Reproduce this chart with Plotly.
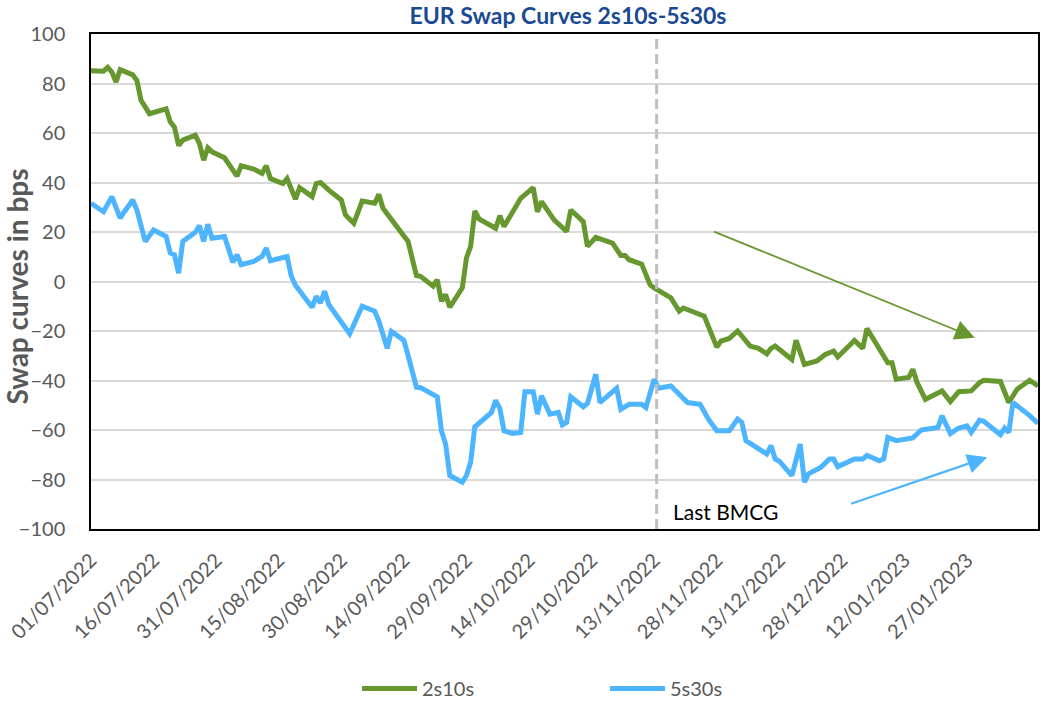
import plotly.graph_objects as go

# ---------------- data ----------------
green_dates = [
    "2022-07-01", "2022-07-04", "2022-07-05", "2022-07-06", "2022-07-07", "2022-07-08",
    "2022-07-11", "2022-07-12", "2022-07-13", "2022-07-15", "2022-07-19", "2022-07-20",
    "2022-07-21", "2022-07-22", "2022-07-23", "2022-07-26", "2022-07-27", "2022-07-28",
    "2022-07-29", "2022-07-30", "2022-08-02", "2022-08-03", "2022-08-05", "2022-08-06",
    "2022-08-09", "2022-08-11", "2022-08-12", "2022-08-13", "2022-08-16", "2022-08-17",
    "2022-08-19", "2022-08-20", "2022-08-23", "2022-08-24", "2022-08-25", "2022-08-27",
    "2022-08-30", "2022-08-31", "2022-09-02", "2022-09-04", "2022-09-07", "2022-09-08",
    "2022-09-09", "2022-09-14", "2022-09-15", "2022-09-17", "2022-09-18", "2022-09-21",
    "2022-09-22", "2022-09-23", "2022-09-24", "2022-09-25", "2022-09-28", "2022-09-29",
    "2022-09-30", "2022-10-01", "2022-10-02", "2022-10-06", "2022-10-07", "2022-10-08",
    "2022-10-12", "2022-10-15", "2022-10-16", "2022-10-17", "2022-10-20", "2022-10-23",
    "2022-10-24", "2022-10-27", "2022-10-28", "2022-10-30", "2022-11-03", "2022-11-05",
    "2022-11-06", "2022-11-07", "2022-11-10", "2022-11-12", "2022-11-13", "2022-11-17",
    "2022-11-19", "2022-11-20", "2022-11-25", "2022-11-28", "2022-11-29", "2022-12-01",
    "2022-12-03", "2022-12-06", "2022-12-08", "2022-12-10", "2022-12-11", "2022-12-12",
    "2022-12-16", "2022-12-17", "2022-12-19", "2022-12-22", "2022-12-24", "2022-12-26",
    "2022-12-27", "2022-12-31", "2023-01-02", "2023-01-03", "2023-01-06", "2023-01-08",
    "2023-01-09", "2023-01-10", "2023-01-13", "2023-01-14", "2023-01-15", "2023-01-17",
    "2023-01-21", "2023-01-23", "2023-01-25", "2023-01-28", "2023-01-30", "2023-01-31",
    "2023-02-04", "2023-02-06", "2023-02-08", "2023-02-11", "2023-02-13",
]
green_2s10s = [
    85.2, 85.0, 86.5, 84.6, 80.6, 85.6,
    83.5, 81.2, 73.2, 67.8, 69.8, 64.5,
    62.4, 55.0, 57.1, 59.1, 55.7, 49.0,
    54.0, 52.4, 50.0, 47.7, 42.6, 46.8,
    45.4, 43.7, 46.8, 41.6, 39.6, 41.6,
    33.3, 37.9, 34.3, 39.6, 40.0, 36.9,
    32.9, 26.9, 23.5, 32.5, 31.6, 35.2,
    29.6, 18.4, 16.2, 2.4, 2.1, -1.9,
    0.7, -8.0, -5.3, -10.4, -2.6, 9.5,
    14.2, 28.5, 25.3, 21.5, 26.6, 22.2,
    33.6, 37.9, 28.2, 32.3, 24.9, 20.2,
    28.9, 24.2, 14.2, 17.8, 15.5, 10.5,
    10.5, 8.8, 7.0, -1.3, -2.6, -6.6,
    -12.0, -10.7, -14.0, -26.5, -24.1, -23.0,
    -20.0, -26.1, -27.0, -29.2, -27.0, -26.1,
    -31.5, -23.8, -33.5, -32.1, -29.5, -28.1,
    -30.5, -23.8, -27.0, -19.0, -26.8, -32.8,
    -32.8, -39.5, -38.8, -35.5, -40.8, -47.6,
    -44.2, -48.5, -44.5, -44.2, -40.8, -39.9,
    -40.4, -48.9, -43.5, -39.9, -42.2,
]

blue_dates = [
    "2022-07-01", "2022-07-04", "2022-07-06", "2022-07-08", "2022-07-09", "2022-07-11",
    "2022-07-12", "2022-07-14", "2022-07-16", "2022-07-19", "2022-07-20", "2022-07-21",
    "2022-07-22", "2022-07-23", "2022-07-26", "2022-07-27", "2022-07-28", "2022-07-29",
    "2022-07-30", "2022-08-02", "2022-08-04", "2022-08-05", "2022-08-06", "2022-08-09",
    "2022-08-11", "2022-08-12", "2022-08-13", "2022-08-17", "2022-08-18", "2022-08-19",
    "2022-08-23", "2022-08-24", "2022-08-25", "2022-08-26", "2022-08-27", "2022-08-31",
    "2022-09-01", "2022-09-04", "2022-09-07", "2022-09-08", "2022-09-10", "2022-09-11",
    "2022-09-14", "2022-09-15", "2022-09-17", "2022-09-18", "2022-09-22", "2022-09-23",
    "2022-09-24", "2022-09-25", "2022-09-28", "2022-09-29", "2022-09-30", "2022-10-01",
    "2022-10-05", "2022-10-06", "2022-10-07", "2022-10-08", "2022-10-10", "2022-10-12",
    "2022-10-13", "2022-10-15", "2022-10-16", "2022-10-17", "2022-10-19", "2022-10-21",
    "2022-10-22", "2022-10-23", "2022-10-24", "2022-10-27", "2022-10-28", "2022-10-30",
    "2022-10-31", "2022-11-04", "2022-11-05", "2022-11-07", "2022-11-10", "2022-11-11",
    "2022-11-13", "2022-11-14", "2022-11-17", "2022-11-19", "2022-11-21", "2022-11-24",
    "2022-11-26", "2022-11-28", "2022-12-01", "2022-12-03", "2022-12-04", "2022-12-05",
    "2022-12-09", "2022-12-10", "2022-12-11", "2022-12-12", "2022-12-13", "2022-12-16",
    "2022-12-18", "2022-12-19", "2022-12-20", "2022-12-23", "2022-12-25", "2022-12-26",
    "2022-12-27", "2022-12-31", "2023-01-02", "2023-01-03", "2023-01-06", "2023-01-07",
    "2023-01-08", "2023-01-10", "2023-01-14", "2023-01-16", "2023-01-20", "2023-01-21",
    "2023-01-23", "2023-01-25", "2023-01-27", "2023-01-28", "2023-01-30", "2023-01-31",
    "2023-02-04", "2023-02-05", "2023-02-06", "2023-02-07", "2023-02-11", "2023-02-13",
]
blue_5s30s = [
    31.6, 28.2, 34.3, 25.6, 28.2, 32.9,
    28.9, 16.2, 20.8, 18.2, 11.5, 10.8,
    3.4, 16.2, 19.9, 22.6, 16.2, 23.1,
    17.5, 18.2, 7.8, 10.8, 6.8, 8.1,
    10.1, 13.5, 8.4, 10.1, 2.2, -1.5,
    -10.4, -6.0, -8.7, -3.9, -9.3, -19.4,
    -21.1, -10.0, -12.0, -16.0, -27.0, -20.2,
    -23.8, -29.8, -42.7, -42.9, -46.6, -60.3,
    -65.7, -78.4, -81.1, -78.4, -73.0, -58.7,
    -52.9, -48.0, -51.2, -60.3, -61.4, -61.0,
    -44.5, -44.5, -53.6, -46.2, -53.6, -52.9,
    -57.9, -56.9, -46.6, -50.6, -49.3, -37.5,
    -48.9, -43.1, -51.6, -49.6, -49.6, -50.9,
    -39.5, -43.1, -42.2, -45.6, -48.9, -49.6,
    -55.6, -60.3, -60.3, -55.6, -56.9, -64.3,
    -69.0, -69.7, -66.3, -71.7, -72.6, -78.4,
    -65.7, -81.1, -77.7, -75.0, -71.7, -71.7,
    -74.8, -71.7, -71.7, -70.3, -72.4, -71.7,
    -63.0, -64.3, -63.2, -60.0, -59.0, -54.3,
    -61.4, -59.2, -58.3, -61.0, -56.0, -56.5,
    -61.9, -59.2, -61.0, -48.9, -54.2, -57.3,
]

tick_dates = [
    "2022-07-01", "2022-07-16", "2022-07-31", "2022-08-15", "2022-08-30",
    "2022-09-14", "2022-09-29", "2022-10-14", "2022-10-29", "2022-11-13",
    "2022-11-28", "2022-12-13", "2022-12-28", "2023-01-12", "2023-01-27",
]
tick_labels = [
    "01/07/2022", "16/07/2022", "31/07/2022", "15/08/2022", "30/08/2022",
    "14/09/2022", "29/09/2022", "14/10/2022", "29/10/2022", "13/11/2022",
    "28/11/2022", "13/12/2022", "28/12/2022", "12/01/2023", "27/01/2023",
]

bmcg_date = "2022-11-13 14:00"

GREEN = "#67972F"
BLUE = "#4DB4FF"
FONT = "Lato, 'Open Sans', sans-serif"

fig = go.Figure()
fig.add_trace(go.Scatter(x=green_dates, y=green_2s10s, mode="lines", name="2s10s",
                         line=dict(color=GREEN, width=5)))
fig.add_trace(go.Scatter(x=blue_dates, y=blue_5s30s, mode="lines", name="5s30s",
                         line=dict(color=BLUE, width=5)))

# vertical dashed line (Last BMCG)
fig.add_shape(type="line", xref="x", yref="y", x0=bmcg_date, x1=bmcg_date, y0=-100, y1=100,
              line=dict(color="#BFBFBF", width=3, dash="10px,5px"), layer="above")

fig.add_annotation(x="2022-11-17", y=-93, xref="x", yref="y", text="Last BMCG",
                   showarrow=False, xanchor="left", yanchor="middle",
                   font=dict(family=FONT, size=21, color="#000000"))

# trend arrows
fig.add_annotation(x="2023-01-28 20:00", y=-22.7, ax="2022-11-27", ay=20.4,
                   xref="x", yref="y", axref="x", ayref="y", text="",
                   showarrow=True, arrowhead=2, arrowsize=2.2, arrowwidth=1.8,
                   arrowcolor=GREEN)
fig.add_annotation(x="2023-01-31 20:00", y=-71, ax="2022-12-29 20:00", ay=-90,
                   xref="x", yref="y", axref="x", ayref="y", text="",
                   showarrow=True, arrowhead=2, arrowsize=1.8, arrowwidth=2.2,
                   arrowcolor=BLUE)

# y-axis title
fig.add_annotation(text="<b>Swap curves in bps</b>", xref="paper", yref="paper",
                   x=-0.078, y=0.49, xanchor="center", yanchor="middle",
                   textangle=-90, showarrow=False,
                   font=dict(family=FONT, size=28, color="#595959"))

fig.update_layout(
    width=1041, height=711,
    margin=dict(l=91, r=3, t=34, b=179),
    paper_bgcolor="white", plot_bgcolor="white",
    font=dict(family=FONT, size=20, color="#595959"),
    title=dict(text="<b>EUR Swap Curves 2s10s-5s30s</b>", x=568 / 1041, xref="container",
               xanchor="center", y=1 - 16 / 711, yref="container", yanchor="middle",
               font=dict(family=FONT, size=23, color="#1B4A94")),
    showlegend=True,
    legend=dict(orientation="h", x=(357 - 91) / 947, xanchor="left", y=-0.322,
                yanchor="middle",
                font=dict(family=FONT, size=20, color="#595959"),
                entrywidth=178, entrywidthmode="pixels", itemwidth=55),
    xaxis=dict(
        type="date", range=["2022-07-01", "2023-02-13"], automargin=False,
        tickvals=tick_dates, ticktext=tick_labels, tickangle=-45,
        tickfont=dict(family=FONT, size=20, color="#595959"),
        showgrid=False, zeroline=False,
        showline=True, linecolor="#000000", linewidth=1.5, mirror=True,
        ticks="", ticklabelstandoff=10,
    ),
    yaxis=dict(
        range=[-100, 100], dtick=20, tick0=0, automargin=False,
        tickfont=dict(family=FONT, size=20, color="#595959"),
        showgrid=True, gridcolor="#D9D9D9", gridwidth=1.5, zeroline=False,
        showline=True, linecolor="#000000", linewidth=1.5, mirror=True,
        ticks="", ticklabelstandoff=20,
    ),
)

fig.write_html(
    "out.html",
    config={"displayModeBar": False},
    post_script="document.body.style.margin='0';document.body.style.overflow='hidden';",
)
